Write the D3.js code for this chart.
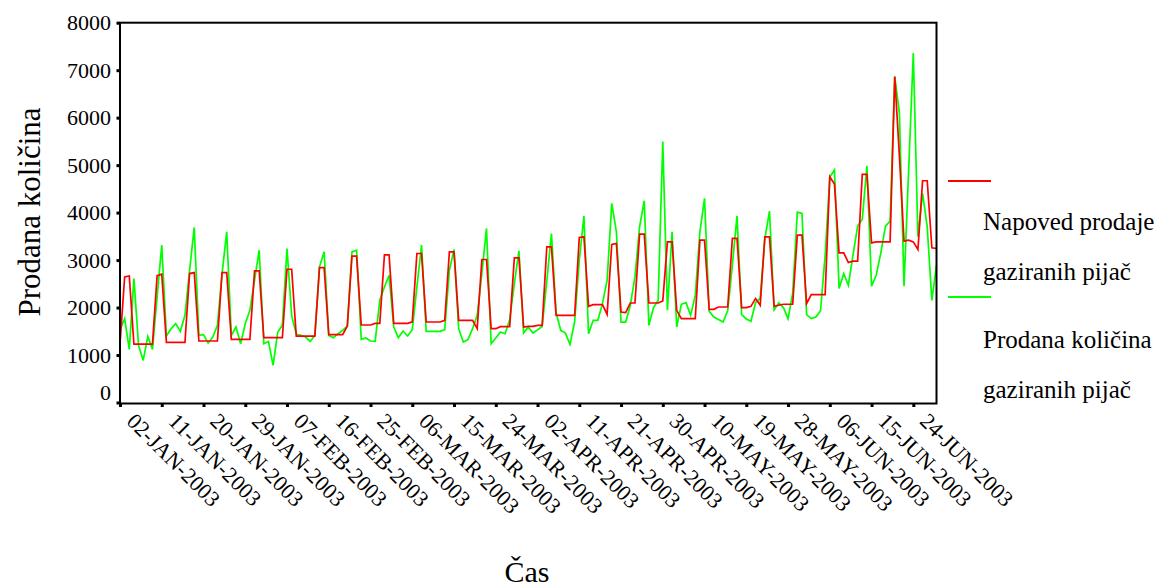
<!DOCTYPE html>
<html>
<head>
<meta charset="utf-8">
<script src="https://cdn.jsdelivr.net/npm/d3@7"></script>
<style>
  html, body { margin: 0; padding: 0; background: #ffffff; }
  svg { display: block; }
  svg text { font-family: "Liberation Serif", "DejaVu Serif", serif; fill: #000; }
</style>
</head>
<body>
<svg id="chart" width="1163" height="587"></svg>
<script>
// Daily sales of soft drinks, 2 Jan – 30 Jun 2003 (store closed on holidays)
const forecast = [
  1232, 2645, 2666, 1231, 1231, 1231, 1231, 1231, 2673, 2702,
  1266, 1266, 1266, 1266, 1266, 2716, 2737, 1295, 1295, 1295,
  1295, 1295, 2737, 2737, 1330, 1330, 1330, 1330, 1330, 2772,
  2772, 1365, 1365, 1365, 1365, 1365, 2807, 2807, 1400, 1400,
  1400, 1400, 1400, 2842, 2842, 1428, 1428, 1428, 1428, 1611,
  3082, 3082, 1632, 1632, 1632, 1667, 1667, 3110, 3110, 1667,
  1667, 1667, 1667, 1700, 3138, 3138, 1696, 1696, 1696, 1696,
  1731, 3173, 3173, 1731, 1731, 1731, 1731, 1555, 3012, 3012,
  1555, 1555, 1597, 1597, 1597, 3047, 3047, 1590, 1604, 1604,
  1625, 1625, 3279, 3279, 1836, 1836, 1836, 1836, 1836, 3476,
  3490, 2026, 2062, 2062, 2062, 1857, 3328, 3349, 1906, 1892,
  2096, 2096, 3546, 3546, 2096, 2096, 2096, 2140, 3384, 3384,
  1942, 1766, 1766, 1766, 1766, 3420, 3420, 1963, 1963, 2012,
  2012, 2012, 3455, 3455, 1998, 1998, 2026, 2188, 2048, 3490,
  3490, 2026, 2048, 2069, 2069, 2069, 3525, 3525, 2083, 2273,
  2273, 2273, 2273, 4756, 4602, 3152, 3152, 2948, 2977, 2977,
  4806, 4806, 3363, 3384, 3384, 3384, 3384, 6867, 5200, 3398,
  3420, 3384, 3223, 4671, 4671, 3258, 3244
];

const actual = [
  1530, 1766, 1119, 2610, 1203,  887, 1393, 1119, 2223, 3314,
  1400, 1555, 1661, 1499, 1836, 2786, 3687, 1414, 1428, 1252,
  1379, 1625, 2716, 3595, 1414, 1590, 1238, 1660, 1942, 2575,
  3208, 1238, 1287,  781, 1484, 1625, 3244, 1836, 1435, 1414,
  1379, 1287, 1414, 2857, 3173, 1414, 1365, 1449, 1520, 1611,
  3173, 3208, 1330, 1358, 1295, 1288, 2153, 2434, 2681, 1590,
  1365, 1506, 1400, 1534, 2434, 3314, 1499, 1499, 1499, 1499,
  1534, 2786, 3223, 1555, 1273, 1323, 1555, 1836, 2716, 3666,
  1238, 1358, 1484, 1449, 1745, 2505, 3195, 1463, 1590, 1463,
  1530, 1600, 2560, 3560, 1900, 1520, 1463, 1224, 1700, 3000,
  3926, 1450, 1731, 1731, 2083, 2575, 4194, 3596, 1695, 1695,
  2048, 2645, 3701, 4250, 1625, 2000, 2150, 5495, 1942, 3596,
  1590, 2069, 2104, 1836, 2250, 3595, 4300, 1921, 1800, 1750,
  1695, 1935, 2900, 3926, 1850, 1760, 1710, 2100, 2200, 3450,
  4032, 1950, 2100, 2000, 1766, 2300, 4010, 3983, 1850, 1766,
  1800, 1935, 3100, 4750, 4897, 2400, 2717, 2470, 3103, 3715,
  3856, 4985, 2449, 2681, 3152, 3715, 3821, 6867, 6100, 2449,
  4900, 7360, 3490, 4405, 3700, 2150, 2892
];

// one tick label every ninth observation
const tickLabels = [
  "02-JAN-2003", "11-JAN-2003", "20-JAN-2003", "29-JAN-2003", "07-FEB-2003",
  "16-FEB-2003", "25-FEB-2003", "06-MAR-2003", "15-MAR-2003", "24-MAR-2003",
  "02-APR-2003", "11-APR-2003", "21-APR-2003", "30-APR-2003", "10-MAY-2003",
  "19-MAY-2003", "28-MAY-2003", "06-JUN-2003", "15-JUN-2003", "24-JUN-2003"
];
const tickStep = 9;

const yTicks = [0, 1000, 2000, 3000, 4000, 5000, 6000, 7000, 8000];

const seriesColors = ["#ff0000", "#00ff00"];

const svg = d3.select("#chart");
svg.append("rect").attr("width", 1163).attr("height", 587).attr("fill", "#fff");

const plot = { left: 120, right: 936.5, top: 22.7, bottom: 402.5 };

const x = d3.scaleLinear().domain([0, actual.length - 1]).range([plot.left, plot.right]);
const y = d3.scaleLinear().domain([0, 8000]).range([plot.bottom, plot.top]);

// data lines (green drawn first, red forecast on top)
const line = d3.line().x((d, i) => x(i)).y(d => y(d));
[actual, forecast].forEach((s, k) => {
  svg.append("path")
    .datum(s)
    .attr("fill", "none")
    .attr("stroke", k === 0 ? seriesColors[1] : seriesColors[0])
    .attr("stroke-width", 1.7)
    .attr("d", line);
});

// frame
svg.append("rect")
  .attr("x", plot.left).attr("y", plot.top)
  .attr("width", plot.right - plot.left).attr("height", plot.bottom + 1 - plot.top)
  .attr("fill", "none").attr("stroke", "#000").attr("stroke-width", 2);

// y axis
const yAxis = d3.axisLeft(y).tickValues(yTicks).tickSize(0).tickPadding(9).tickFormat(d3.format("d"));
const gy = svg.append("g").attr("transform", `translate(${plot.left},0)`).call(yAxis);
gy.attr("font-family", null);
gy.select(".domain").remove();
gy.selectAll(".tick text")
  .attr("font-size", 22)
  .attr("dy", d => d === 0 ? "-0.12em" : "0.32em");
gy.selectAll(".tick").append("rect")
  .attr("x", -3.5).attr("y", -1.5).attr("width", 3).attr("height", 3).attr("fill", "#000");

// x axis with a label every ninth day
const xTickIdx = tickLabels.map((_, i) => i * tickStep);
const xAxis = d3.axisBottom(x).tickValues(xTickIdx).tickSize(0)
  .tickFormat((d, i) => tickLabels[i]);
const gx = svg.append("g").attr("transform", `translate(0,${plot.bottom + 1})`).call(xAxis);
gx.attr("font-family", null);
gx.select(".domain").remove();
gx.selectAll(".tick").append("rect")
  .attr("x", -1.5).attr("y", 0.5).attr("width", 3).attr("height", 3).attr("fill", "#000");
gx.selectAll(".tick text")
  .attr("font-size", 22)
  .attr("text-anchor", "start")
  .attr("dy", 0)
  .attr("y", 0)
  .attr("transform", "translate(5,19) rotate(45)");

// axis titles
svg.append("text")
  .attr("x", 527).attr("y", 582)
  .attr("text-anchor", "middle")
  .attr("font-size", 30)
  .text("Čas");

svg.append("text")
  .attr("transform", "translate(40,212) rotate(-90)")
  .attr("text-anchor", "middle")
  .attr("font-size", 31)
  .text("Prodana količina");

// legend
const legend = svg.append("g");
const legendRows = [
  { color: seriesColors[0], lineY: 181, lines: ["Napoved prodaje", "gaziranih pijač"], textY: [230, 280] },
  { color: seriesColors[1], lineY: 297, lines: ["Prodana količina", "gaziranih pijač"], textY: [348, 398] }
];
legendRows.forEach(r => {
  legend.append("line")
    .attr("x1", 948).attr("x2", 991)
    .attr("y1", r.lineY).attr("y2", r.lineY)
    .attr("stroke", r.color).attr("stroke-width", 2);
  r.lines.forEach((t, j) => {
    legend.append("text")
      .attr("x", 983).attr("y", r.textY[j])
      .attr("font-size", 25)
      .text(t);
  });
});
</script>
</body>
</html>
